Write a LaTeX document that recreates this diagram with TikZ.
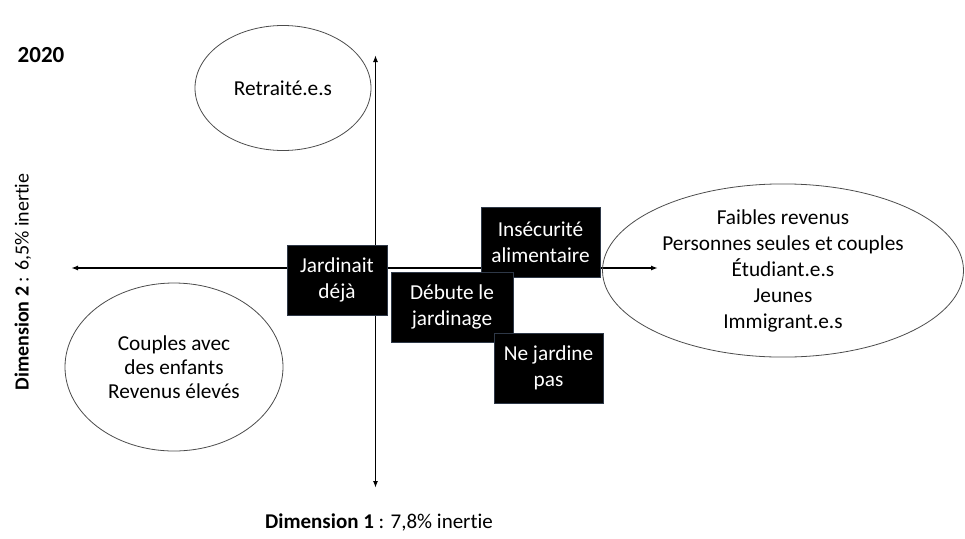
\documentclass[tikz,border=0pt]{standalone}
\usepackage{fontspec}
\setmainfont{Carlito}[Ligatures=NoCommon]
\usetikzlibrary{shapes.geometric,arrows.meta}
\definecolor{ovalline}{rgb}{0.3,0.3,0.3}
\definecolor{boxline}{rgb}{0.18,0.22,0.28}
\tikzset{
  groupe/.style={ellipse, draw=ovalline, line width=0.8pt, align=center, inner sep=0pt},
  modalite/.style={fill=black, draw=boxline, line width=0.8pt, text=white, align=center,
    minimum height=70pt, inner sep=0pt},
  axe/.style={line width=1.4pt, {Latex[length=7pt,width=5pt]}-{Latex[length=7pt,width=5pt]}}
}

\begin{document}
\begin{tikzpicture}[x=1pt, y=-1pt, font=\fontsize{21.3}{26}\selectfont]
	\useasboundingbox (0,0) rectangle (965,538);
	% axes
	\coordinate (haut) at (375.5,55);
	\coordinate (bas) at (375.5,488);
	\coordinate (gauche) at (71,268);
	\coordinate (droite) at (658,268);
	\draw [axe] (haut) -- (bas);
	\draw [axe] (gauche) -- (droite);
	% groupes
	\node [groupe, minimum width=176pt, minimum height=125pt] (retraites) at (283,88) {Retrait\'e.e.s};
	\node [groupe, minimum width=218pt, minimum height=168pt, font=\fontsize{21.3}{24}\selectfont] (couples) at (174,367) {Couples avec\\des enfants\\Revenus \'elev\'es};
	\node [groupe, minimum width=361pt, minimum height=173pt] (faibles) at (783,270.5) {Faibles revenus\\Personnes seules et couples\\\'Etudiant.e.s\\Jeunes\\Immigrant.e.s};
	% modalites
	\node [modalite, minimum width=100pt] (deja) at (337,280) {Jardinait\\d\'ej\`a};
	\node [modalite, minimum width=119pt] (insecurite) at (540.5,242) {Ins\'ecurit\'e\\alimentaire};
	\node [modalite, minimum width=122pt] (debute) at (452,307) {D\'ebute le\\jardinage};
	\node [modalite, minimum width=109pt] (nejardine) at (548.5,368) {Ne jardine\\pas};
	% titres
	\node [font=\fontsize{23}{27}\selectfont\bfseries] (annee) at (41,55) {2020};
	\node [rotate=90, font=\fontsize{20}{24}\selectfont] (dim2) at (23,282) {\textbf{Dimension 2} : 6,5\% inertie};
	\node [font=\fontsize{21}{25}\selectfont] (dim1) at (379,522) {\textbf{Dimension 1} : 7,8\% inertie};
\end{tikzpicture}
\end{document}
